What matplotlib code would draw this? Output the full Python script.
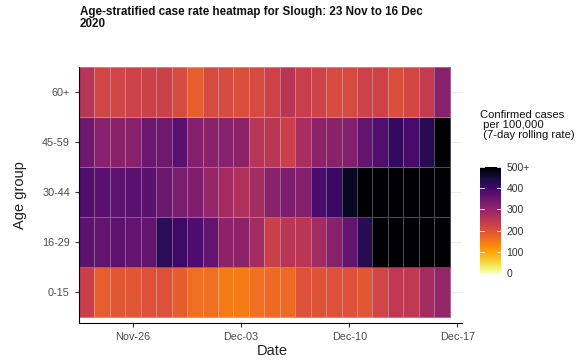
import numpy as np
import pandas as pd
import matplotlib
matplotlib.use("Agg")
import matplotlib.pyplot as plt
import matplotlib.dates as mdates
from matplotlib.colors import Normalize

plt.rcParams['font.family'] = ['Liberation Sans', 'DejaVu Sans']

dates = pd.date_range("2020-11-23", "2020-12-16", freq="D")
age_groups = ["0-15", "16-29", "30-44", "45-59", "60+"]

rate_0_15 = [232, 180, 192, 192, 200, 200, 185, 162, 162, 145, 145, 160,
             165, 165, 200, 198, 200, 200, 192, 220, 245, 245, 280, 300]
rate_16_29 = [366, 360, 366, 360, 360, 422, 405, 385, 360, 310, 310, 280,
              230, 250, 250, 283, 315, 360, 428, 560, 600, 640, 660, 650]
rate_30_44 = [380, 372, 368, 372, 372, 348, 332, 325, 297, 283, 265, 280,
              315, 328, 320, 390, 410, 470, 540, 580, 610, 640, 650, 630]
rate_45_59 = [345, 315, 312, 315, 348, 345, 372, 320, 312, 315, 310, 255,
              250, 230, 275, 310, 312, 322, 360, 380, 415, 392, 428, 495]
rate_60p = [255, 220, 220, 225, 228, 228, 212, 180, 212, 212, 205, 212,
            225, 252, 232, 225, 212, 212, 225, 225, 205, 218, 240, 315]

values = np.array([rate_0_15, rate_16_29, rate_30_44, rate_45_59, rate_60p], dtype=float)

colorbar_ticks = [0, 100, 200, 300, 400, 500]
colorbar_labels = ["0", "100", "200", "300", "400", "500+"]
x_tick_dates = pd.to_datetime(["2020-11-26", "2020-12-03", "2020-12-10", "2020-12-17"])
x_tick_labels = ["Nov-26", "Dec-03", "Dec-10", "Dec-17"]

fig = plt.figure(figsize=(5.85, 3.62), dpi=100)
ax = fig.add_axes([79/585, (362-323)/362, (462-79)/585, (323-67)/362])

xnum = mdates.date2num(dates)
x_edges = np.concatenate([xnum - 0.5, [xnum[-1] + 0.5]])
y_idx = np.arange(1, len(age_groups) + 1)
y_edges = np.concatenate([y_idx - 0.5, [y_idx[-1] + 0.5]])

norm = Normalize(vmin=0, vmax=500, clip=True)
cmap = plt.get_cmap("inferno_r")

for yy in y_idx:
    ax.axhline(yy, color="#ebebeb", lw=0.8, zorder=0)

mesh = ax.pcolormesh(x_edges, y_edges, values, cmap=cmap, norm=norm,
                     edgecolors=(1, 1, 1, 0.3), linewidth=0.6, zorder=1)

ax.set_xlim(x_edges[0], x_edges[-1] + 0.8)
ax.set_ylim(0.38, 5.5)

ax.set_yticks(y_idx)
ax.set_yticklabels(age_groups)
ax.set_xticks(mdates.date2num(x_tick_dates))
ax.set_xticklabels(x_tick_labels)
ax.tick_params(axis="both", labelsize=7.8, labelcolor="#4d4d4d", color="#333333",
               length=3, width=0.8)

for side in ["top", "right"]:
    ax.spines[side].set_visible(False)
for side in ["left", "bottom"]:
    ax.spines[side].set_color("#000000")
    ax.spines[side].set_linewidth(0.8)

ax.set_xlabel("Date", fontsize=10.5, color="#222222")
ax.xaxis.set_label_coords((272-79)/383, -(344-323)/256)
ax.set_ylabel("Age group", fontsize=10.5, color="#222222")
ax.yaxis.set_label_coords((27-79)/383, 0.5)

fig.text(80/585, 1 - 6/362,
         "Age-stratified case rate heatmap for Slough: 23 Nov to 16 Dec\n2020",
         fontsize=8.35, fontweight="bold", ha="left", va="top", linespacing=1.05,
         color="#111111")

cax = fig.add_axes([480/585, (362-273)/362, 21/585, 106/362])
cb = fig.colorbar(plt.cm.ScalarMappable(norm=norm, cmap=cmap), cax=cax,
                  ticks=colorbar_ticks)
cb.outline.set_visible(False)
cb.ax.set_yticklabels(colorbar_labels)
cb.ax.tick_params(labelsize=7.5, labelcolor="#333333", length=0, pad=4)
for t in colorbar_ticks:
    cb.ax.plot([0, 0.2], [t, t], color="white", lw=0.6, transform=cb.ax.get_yaxis_transform())
    cb.ax.plot([0.8, 1.0], [t, t], color="white", lw=0.6, transform=cb.ax.get_yaxis_transform())

fig.text(480/585, 1 - 110/362,
         "Confirmed cases\n per 100,000\n (7-day rolling rate)",
         fontsize=8.1, ha="left", va="top", color="#111111", linespacing=1.0)

fig.savefig("out.png", dpi=100)
